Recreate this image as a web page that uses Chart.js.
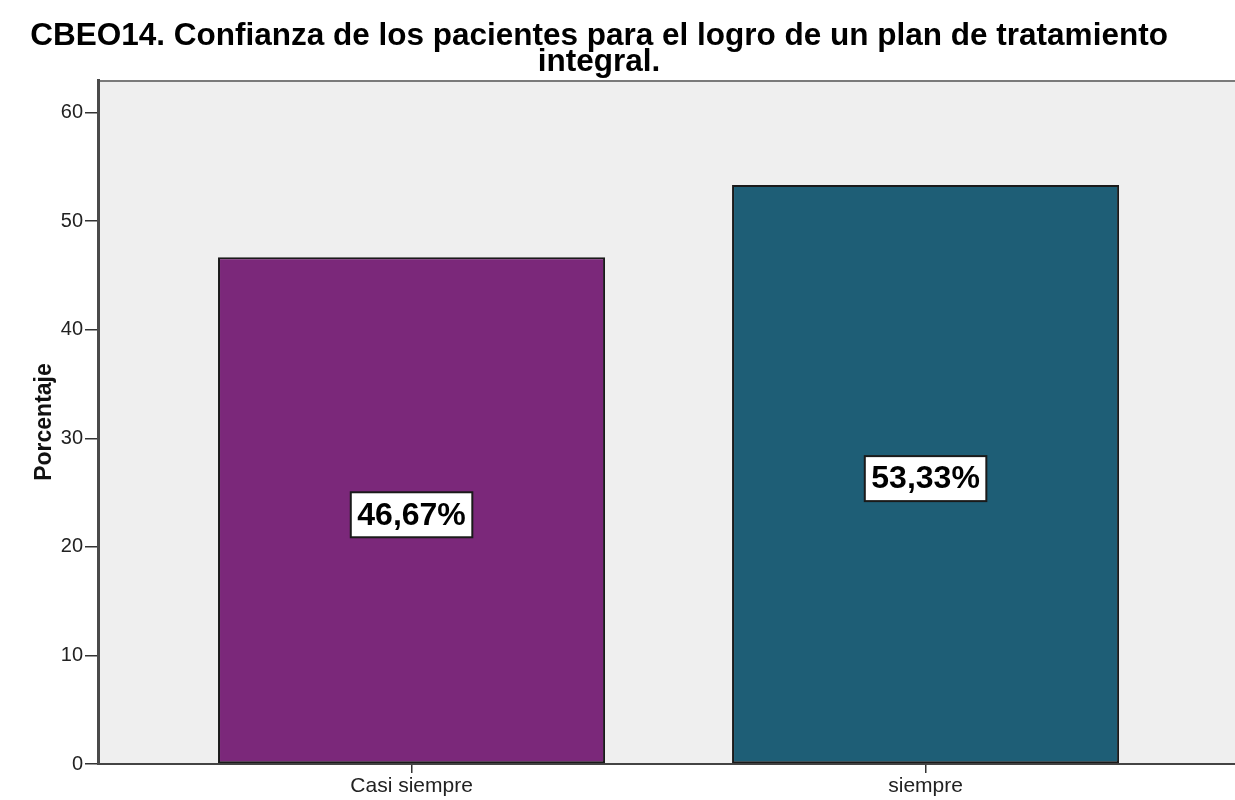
<!DOCTYPE html>
<html>
<head>
<meta charset="utf-8">
<script src="https://cdn.jsdelivr.net/npm/chart.js@4.4.0/dist/chart.umd.min.js"></script>
<style>
  html, body { margin: 0; padding: 0; background: #ffffff; }
  canvas { display: block; }
</style>
</head>
<body>
<canvas id="chart" width="1235" height="800"></canvas>
<script>
// Chart content
const titleLines = ['CBEO14. Confianza de los pacientes para el logro de un plan de tratamiento', 'integral.'];
const categories = ['Casi siempre', 'siempre'];
const percentages = [46.67, 53.33];
const barColors = ['#7b287a', '#1e5e76'];
const yTickValues = [0, 10, 20, 30, 40, 50, 60];
const yAxisTitle = 'Porcentaje';

const FONT = '"Liberation Sans", Arial, Helvetica, sans-serif';

const formatPct = v => v.toFixed(2).replace('.', ',') + '%';

// Grey plot background plus the thin frame line along the top
const plotBackground = {
  id: 'plotBackground',
  beforeDraw(chart) {
    const { ctx, chartArea: a } = chart;
    ctx.save();
    ctx.fillStyle = '#efefef';
    ctx.fillRect(a.left, a.top, a.right - a.left, a.bottom - a.top);
    ctx.strokeStyle = '#7a7a7a';
    ctx.lineWidth = 2;
    ctx.beginPath();
    ctx.moveTo(a.left, a.top + 1);
    ctx.lineTo(a.right, a.top + 1);
    ctx.stroke();
    ctx.restore();
  }
};

// Two-line centred heading
const heading = {
  id: 'heading',
  afterDraw(chart) {
    const { ctx } = chart;
    ctx.save();
    ctx.fillStyle = '#000000';
    ctx.font = 'bold 31.5px ' + FONT;
    ctx.textAlign = 'center';
    ctx.textBaseline = 'alphabetic';
    const cx = 599;
    ctx.fillText(titleLines[0], cx, 45);
    ctx.fillText(titleLines[1], cx, 71);
    ctx.restore();
  }
};

// Boxed percentage label in the middle of each bar
const barLabels = {
  id: 'barLabels',
  afterDatasetsDraw(chart) {
    const { ctx } = chart;
    const meta = chart.getDatasetMeta(0);
    ctx.save();
    ctx.font = 'bold 32px ' + FONT;
    ctx.textAlign = 'center';
    ctx.textBaseline = 'middle';
    meta.data.forEach((bar, i) => {
      const text = formatPct(percentages[i]);
      const cx = bar.x;
      const cy = (bar.y + bar.base) / 2 + 4.5;
      const w = ctx.measureText(text).width + 13;
      const h = 45;
      ctx.fillStyle = '#ffffff';
      ctx.fillRect(cx - w / 2, cy - h / 2, w, h);
      ctx.strokeStyle = '#1a1a1a';
      ctx.lineWidth = 2;
      ctx.strokeRect(cx - w / 2, cy - h / 2, w, h);
      ctx.fillStyle = '#000000';
      ctx.fillText(text, cx, cy + 1);
    });
    ctx.restore();
  }
};

new Chart(document.getElementById('chart'), {
  type: 'bar',
  data: {
    datasets: [{
      data: percentages.map((v, i) => ({ x: i, y: v })),
      backgroundColor: barColors,
      borderColor: '#1a1a1a',
      borderWidth: 2,
      borderSkipped: false,
      categoryPercentage: 0.753,
      barPercentage: 1
    }]
  },
  options: {
    responsive: false,
    devicePixelRatio: 1,
    animation: false,
    layout: { padding: { top: 80, right: 0, bottom: 0, left: 0 } },
    plugins: {
      legend: { display: false },
      tooltip: { enabled: false },
      title: { display: false }
    },
    scales: {
      x: {
        type: 'linear',
        offset: false,
        min: -0.61,
        max: 1.602,
        afterBuildTicks(scale) { scale.ticks = categories.map((_, i) => ({ value: i })); },
        afterFit(scale) { scale.height = 36; },
        ticks: {
          callback: v => categories[v],
          color: '#222222',
          font: { family: FONT, size: 21 },
          padding: 1,
          maxRotation: 0,
          autoSkip: false
        },
        grid: { offset: false, drawOnChartArea: false, drawTicks: true, tickLength: 9, color: '#333333', lineWidth: 1.5 },
        border: { display: true, color: '#444444', width: 2 }
      },
      y: {
        type: 'linear',
        min: 0,
        max: 63,
        afterBuildTicks(scale) { scale.ticks = yTickValues.map(v => ({ value: v })); },
        afterFit(scale) { scale.width = 98; },
        ticks: {
          color: '#222222',
          font: { family: FONT, size: 20 },
          padding: 2
        },
        grid: { drawOnChartArea: false, drawTicks: true, tickLength: 13, color: '#333333', lineWidth: 1.5 },
        border: { display: true, color: '#4a4a4a', width: 3 },
        title: {
          display: true,
          text: yAxisTitle,
          color: '#111111',
          font: { family: FONT, size: 23, weight: 'bold', lineHeight: 1 },
          padding: { top: 33, bottom: 0 }
        }
      }
    }
  },
  plugins: [plotBackground, heading, barLabels]
});
</script>
</body>
</html>
